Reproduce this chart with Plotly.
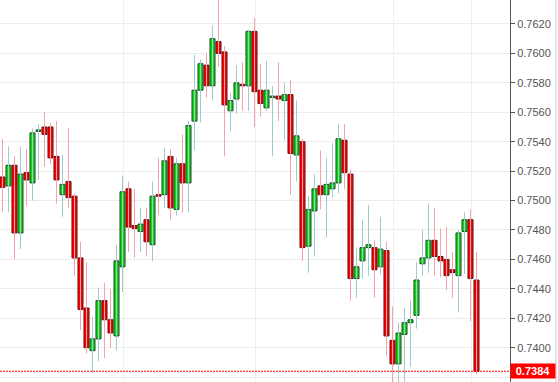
import plotly.graph_objects as go

# ---- data ----
opens = [0.7516, 0.7510, 0.7524, 0.7478, 0.7519, 0.7512, 0.7547, 0.7550, 0.7550, 0.7530,
         0.7504, 0.7513, 0.7503, 0.7461, 0.7427, 0.7398, 0.7406, 0.7432, 0.7419, 0.7408,
         0.7455, 0.7508, 0.7483, 0.7479, 0.7487, 0.7470, 0.7504, 0.7504, 0.7530, 0.7494,
         0.7525, 0.7512, 0.7554, 0.7575, 0.7592, 0.7578, 0.7608, 0.7601, 0.7561, 0.7569,
         0.7579, 0.7578, 0.7615, 0.7575, 0.7563, 0.7570, 0.7571, 0.7568, 0.7572, 0.7531,
         0.7540, 0.7469, 0.7493, 0.7510, 0.7504, 0.7508, 0.7512, 0.7541, 0.7518, 0.7447,
         0.7459, 0.7468, 0.7468, 0.7455, 0.7466, 0.7405, 0.7389, 0.7409, 0.7417, 0.7422,
         0.7457, 0.7461, 0.7473, 0.7462, 0.7460, 0.7453, 0.7449, 0.7479, 0.7487, 0.7446]
highs = [0.7542, 0.7537, 0.7530, 0.7537, 0.7535, 0.7549, 0.7552, 0.7560, 0.7553, 0.7554,
         0.7531, 0.7549, 0.7505, 0.7472, 0.7458, 0.7421, 0.7441, 0.7444, 0.7440, 0.7470,
         0.7517, 0.7513, 0.7508, 0.7495, 0.7495, 0.7513, 0.7529, 0.7536, 0.7535, 0.7529,
         0.7545, 0.7554, 0.7599, 0.7596, 0.7600, 0.7619, 0.7640, 0.7605, 0.7573, 0.7592,
         0.7594, 0.7616, 0.7624, 0.7593, 0.7595, 0.7578, 0.7594, 0.7580, 0.7582, 0.7568,
         0.7542, 0.7503, 0.7518, 0.7534, 0.7529, 0.7539, 0.7552, 0.7552, 0.7521, 0.7468,
         0.7487, 0.7497, 0.7473, 0.7489, 0.7472, 0.7428, 0.7417, 0.7427, 0.7432, 0.7458,
         0.7480, 0.7498, 0.7495, 0.7481, 0.7482, 0.7465, 0.7480, 0.7492, 0.7494, 0.7465]
lows = [0.7492, 0.7492, 0.7460, 0.7467, 0.7496, 0.7500, 0.7514, 0.7523, 0.7525, 0.7498,
        0.7489, 0.7495, 0.7449, 0.7412, 0.7396, 0.7383, 0.7391, 0.7393, 0.7400, 0.7398,
        0.7438, 0.7465, 0.7461, 0.7465, 0.7462, 0.7459, 0.7490, 0.7495, 0.7487, 0.7490,
        0.7492, 0.7492, 0.7534, 0.7553, 0.7570, 0.7568, 0.7591, 0.7530, 0.7547, 0.7559,
        0.7561, 0.7561, 0.7550, 0.7557, 0.7561, 0.7530, 0.7554, 0.7541, 0.7504, 0.7513,
        0.7459, 0.7451, 0.7462, 0.7494, 0.7475, 0.7502, 0.7505, 0.7508, 0.7432, 0.7434,
        0.7447, 0.7449, 0.7434, 0.7450, 0.7394, 0.7370, 0.7370, 0.7370, 0.7387, 0.7413,
        0.7449, 0.7451, 0.7449, 0.7448, 0.7439, 0.7434, 0.7424, 0.7450, 0.7418, 0.7382]
closes = [0.7509, 0.7524, 0.7478, 0.7518, 0.7514, 0.7546, 0.7548, 0.7545, 0.7529, 0.7514,
          0.7511, 0.7502, 0.7461, 0.7426, 0.7400, 0.7406, 0.7432, 0.7419, 0.7410, 0.7459,
          0.7506, 0.7482, 0.7481, 0.7484, 0.7472, 0.7503, 0.7503, 0.7527, 0.7495, 0.7525,
          0.7512, 0.7551, 0.7575, 0.7593, 0.7578, 0.7610, 0.7600, 0.7565, 0.7568, 0.7580,
          0.7578, 0.7615, 0.7574, 0.7566, 0.7575, 0.7571, 0.7569, 0.7572, 0.7532, 0.7544,
          0.7468, 0.7494, 0.7508, 0.7504, 0.7511, 0.7512, 0.7542, 0.7519, 0.7447, 0.7455,
          0.7468, 0.7470, 0.7453, 0.7467, 0.7408, 0.7389, 0.7410, 0.7417, 0.7419, 0.7446,
          0.7461, 0.7473, 0.7462, 0.7459, 0.7449, 0.7451, 0.7478, 0.7487, 0.7447, 0.7384]
periods = list(range(len(closes)))
y_ticks = [0.7380, 0.7400, 0.7420, 0.7440, 0.7460, 0.7480, 0.7500, 0.7520,
           0.7540, 0.7560, 0.7580, 0.7600, 0.7620]
period_grid = [20.17, 42.17, 65.1, 78.17]

UP_FILL, UP_LINE, UP_WICK = "#0fd60f", "#1f4a2c", "#9ecbcd"
DN_FILL, DN_LINE, DN_WICK = "#ff0000", "#5e1616", "#f5a2aa"

fig = go.Figure()

is_up = [c >= o for o, c in zip(opens, closes)]

# wicks
for up, col in ((True, UP_WICK), (False, DN_WICK)):
    xs, ys = [], []
    for i, l, h, u in zip(periods, lows, highs, is_up):
        if u == up:
            xs += [i, i, None]
            ys += [l, h, None]
    fig.add_trace(go.Scatter(x=xs, y=ys, mode="lines", line=dict(color=col, width=1),
                             hoverinfo="skip", showlegend=False))

# bodies
fig.add_trace(go.Bar(
    x=periods,
    base=[min(o, c) for o, c in zip(opens, closes)],
    y=[abs(c - o) for o, c in zip(opens, closes)],
    width=0.84,
    marker=dict(color=[UP_FILL if u else DN_FILL for u in is_up],
                line=dict(color=[UP_LINE if u else DN_LINE for u in is_up], width=1)),
    hoverinfo="skip", showlegend=False))

last = closes[-1]
fig.add_shape(type="line", xref="paper", x0=0, x1=1, yref="y", y0=last, y1=last,
              line=dict(color="#ff0000", width=1, dash="2px,1px"))
fig.add_shape(type="line", xref="paper", x0=1.0902, x1=1.0902, yref="paper", y0=0, y1=1,
              line=dict(color="#e4e4ea", width=2))
fig.add_annotation(x=1, xref="paper", xanchor="left", y=last, yref="y", yanchor="middle",
                   text="<b>%.4f</b>" % last, showarrow=False, bgcolor="#ff0000",
                   font=dict(color="white", size=11, family="Liberation Sans, Arial"),
                   width=44, height=14, borderpad=0, align="center")

fig.update_layout(
    width=558, height=382, margin=dict(l=0, r=48, t=0, b=0),
    paper_bgcolor="white", plot_bgcolor="white",
    xaxis=dict(range=[-0.4167, 84.583], tickvals=period_grid, showticklabels=False,
               showgrid=True, gridcolor="#efefef", gridwidth=1, zeroline=False,
               showline=False, ticks="", fixedrange=True),
    yaxis=dict(side="right", range=[0.73767, 0.76363], tickvals=y_ticks, tickformat=".4f",
               ticks="outside", ticklen=4, tickcolor="#555555", showline=True,
               linecolor="#555555", linewidth=1, gridcolor="#ececec", gridwidth=1,
               zeroline=False, tickfont=dict(size=11, color="#555555",
                                             family="Liberation Sans, Arial"),
               fixedrange=True),
)

fig.write_html("out.html", config={"displayModeBar": False},
               post_script="document.body.style.margin='0';document.body.style.overflow='hidden';")
